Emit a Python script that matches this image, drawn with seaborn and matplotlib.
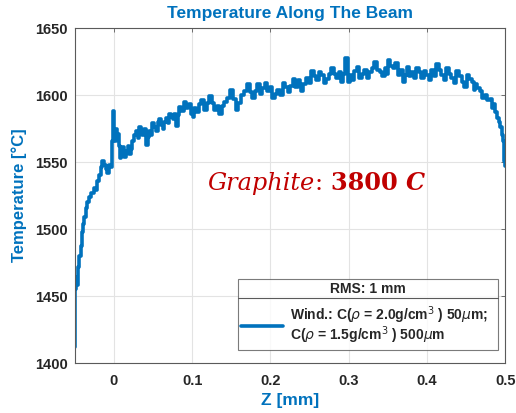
import matplotlib
matplotlib.use("Agg")
import matplotlib.pyplot as plt
import seaborn as sns
import pandas as pd
from matplotlib.lines import Line2D

# ---- data ----
z_mm = [-0.0500, -0.0496, -0.0490, -0.0483, -0.0470, -0.0458, -0.0436, -0.0414, -0.0400,
        -0.0385, -0.0368, -0.0350, -0.0329, -0.0308, -0.0276, -0.0244, -0.0225, -0.0205,
        -0.0182, -0.0158, -0.0137, -0.0115, -0.0096, -0.0077, -0.0060, -0.0042, -0.0017,
        -0.0009,
        0.0013, 0.0034, 0.0055, 0.0066, 0.0077, 0.0096, 0.0115, 0.0139, 0.0163, 0.0184,
        0.0205, 0.0224, 0.0244, 0.0268, 0.0291, 0.0312, 0.0333, 0.0352, 0.0372, 0.0396,
        0.0419, 0.0440, 0.0462, 0.0481, 0.0500, 0.0524, 0.0547, 0.0568, 0.0590, 0.0611,
        0.0632, 0.0654, 0.0676, 0.0697, 0.0718, 0.0739, 0.0760, 0.0782, 0.0804, 0.0825,
        0.0846, 0.0878, 0.0910, 0.0932, 0.0953, 0.0975, 0.0996, 0.1017, 0.1038, 0.1070,
        0.1103, 0.1135, 0.1167, 0.1199, 0.1231, 0.1263, 0.1295, 0.1327, 0.1359, 0.1391,
        0.1423, 0.1466, 0.1509, 0.1541, 0.1573, 0.1605, 0.1637, 0.1680, 0.1722, 0.1754,
        0.1786, 0.1818, 0.1850, 0.1882, 0.1914, 0.1946, 0.1978, 0.2010, 0.2042, 0.2074,
        0.2106, 0.2139, 0.2171, 0.2203, 0.2235, 0.2267, 0.2299, 0.2331, 0.2363, 0.2385,
        0.2406, 0.2439, 0.2471, 0.2503, 0.2535, 0.2567, 0.2599, 0.2631, 0.2663, 0.2695,
        0.2727, 0.2759, 0.2791, 0.2823, 0.2855, 0.2887, 0.2919, 0.2945, 0.2970, 0.3004,
        0.3026, 0.3058, 0.3090, 0.3122, 0.3154, 0.3186, 0.3218, 0.3250, 0.3282, 0.3314,
        0.3346, 0.3378, 0.3410, 0.3442, 0.3474, 0.3496, 0.3517, 0.3549, 0.3581, 0.3613,
        0.3645, 0.3677, 0.3709, 0.3731, 0.3753, 0.3785, 0.3817, 0.3849, 0.3881, 0.3913,
        0.3945, 0.3977, 0.4009, 0.4041, 0.4073, 0.4105, 0.4137, 0.4169, 0.4201, 0.4233,
        0.4265, 0.4297, 0.4329, 0.4361, 0.4394, 0.4426, 0.4458, 0.4490, 0.4522, 0.4554,
        0.4586, 0.4607, 0.4628, 0.4660, 0.4692, 0.4724, 0.4756, 0.4789, 0.4821, 0.4842,
        0.4863, 0.4885, 0.4906, 0.4928, 0.4949, 0.4964, 0.4978, 0.4995, 0.5000]
temp_c = [1412, 1443, 1455, 1464, 1458, 1472, 1480, 1487, 1498,
          1504, 1509, 1516, 1520, 1524, 1527, 1531, 1529, 1536,
          1540, 1546, 1551, 1548, 1545, 1542, 1548, 1546, 1566,
          1588,
          1566, 1575, 1571, 1562, 1553, 1558, 1561, 1554, 1558, 1562,
          1556, 1560, 1566, 1570, 1573, 1568, 1576, 1574, 1570, 1575,
          1563, 1569, 1573, 1570, 1579, 1576, 1573, 1580, 1582, 1578,
          1575, 1580, 1583, 1579, 1586, 1584, 1582, 1586, 1577, 1585,
          1591, 1588, 1595, 1590, 1591, 1593, 1586, 1584, 1590, 1587,
          1593, 1596, 1589, 1594, 1599, 1594, 1589, 1592, 1586, 1592,
          1595, 1598, 1604, 1597, 1589, 1594, 1600, 1603, 1608, 1602,
          1598, 1603, 1608, 1601, 1605, 1609, 1603, 1606, 1598, 1601,
          1604, 1600, 1609, 1606, 1602, 1607, 1612, 1606, 1611, 1608,
          1603, 1608, 1613, 1609, 1618, 1614, 1611, 1617, 1615, 1609,
          1612, 1616, 1620, 1616, 1613, 1617, 1610, 1616, 1628, 1610,
          1615, 1611, 1618, 1621, 1613, 1616, 1619, 1613, 1617, 1620,
          1625, 1619, 1617, 1614, 1620, 1616, 1626, 1622, 1620, 1624,
          1615, 1619, 1610, 1615, 1621, 1614, 1617, 1613, 1620, 1617,
          1613, 1618, 1615, 1611, 1619, 1614, 1623, 1619, 1615, 1611,
          1620, 1616, 1613, 1609, 1618, 1614, 1610, 1606, 1615, 1612,
          1610, 1604, 1608, 1605, 1603, 1598, 1600, 1596, 1597, 1590,
          1593, 1587, 1583, 1580, 1576, 1570, 1566, 1551, 1547]
x_ticks = [0, 0.1, 0.2, 0.3, 0.4, 0.5]
x_tick_labels = ["0", "0.1", "0.2", "0.3", "0.4", "0.5"]
y_ticks = [1400, 1450, 1500, 1550, 1600, 1650]
y_tick_labels = ["1400", "1450", "1500", "1550", "1600", "1650"]
series_label = "Wind.: C($\\rho$ = 2.0g/cm$^3$ ) 50$\\mu$m;\nC($\\rho$ = 1.5g/cm$^3$ ) 500$\\mu$m"
legend_title = "RMS: 1 mm"

BLUE = "#0072BD"
DARK = "#262626"
GREY = "#5a5a5a"

sns.set_theme(style="white")
plt.rcParams["font.family"] = ["Liberation Sans", "DejaVu Sans"]
plt.rcParams["mathtext.default"] = "it"

fig = plt.figure(figsize=(5.16, 4.13), dpi=100)
ax = fig.add_axes([0.145, 0.121, 0.834, 0.811])

df = pd.DataFrame({"z": z_mm, "T": temp_c})
sns.lineplot(data=df, x="z", y="T", ax=ax, color=BLUE, linewidth=2.6,
             drawstyle="steps-mid", label=series_label, sort=False)

ax.set_xlim(-0.05, 0.5)
ax.set_ylim(1400, 1650)
ax.set_xticks(x_ticks)
ax.set_xticklabels(x_tick_labels)
ax.set_yticks(y_ticks)
ax.set_yticklabels(y_tick_labels)
ax.grid(True, color="#e3e3e3", linewidth=0.8)
ax.set_axisbelow(True)

for s in ax.spines.values():
    s.set_visible(True)
    s.set_color(GREY)
    s.set_linewidth(0.8)

ax.tick_params(axis="both", which="both", direction="in", length=3, width=0.6,
               color=GREY, top=True, right=True, labelsize=10.5, labelcolor=DARK)
ax.tick_params(axis="x", pad=8)
ax.tick_params(axis="y", pad=5)
for lab in ax.get_xticklabels() + ax.get_yticklabels():
    lab.set_fontweight("bold")

ax.set_title("Temperature Along The Beam", color=BLUE, fontsize=12.5,
             fontweight="bold", pad=7)
ax.set_xlabel("Z [mm]", color=BLUE, fontsize=12.5, fontweight="bold")
ax.set_ylabel("Temperature [°C]", color=BLUE, fontsize=12, fontweight="bold")
ax.xaxis.set_label_coords(0.5, -0.088)
ax.yaxis.set_label_coords(-0.112, 0.5)

# Graphite annotation (red, serif)
RED = "#C00000"
FS = 17.3
t1 = ax.text(0.309, 0.518, "Graphite", transform=ax.transAxes, color=RED,
             fontsize=FS, family="DejaVu Serif", style="italic", va="baseline")
t2 = ax.annotate(": ", xy=(1, 0), xycoords=t1, color=RED, fontsize=FS,
                 family="DejaVu Serif", va="bottom")
t3 = ax.annotate("3800 ", xy=(1, 0), xycoords=t2, color=RED, fontsize=FS,
                 family="DejaVu Serif", fontweight="bold", va="bottom")
t4 = ax.annotate("C", xy=(1, 0), xycoords=t3, color=RED, fontsize=FS,
                 family="DejaVu Serif", fontweight="bold", style="italic", va="bottom")

leg = ax.legend(loc="lower left", bbox_to_anchor=(0.379, 0.039, 0.605, 0.206),
                mode="expand", borderaxespad=0, title=legend_title, fontsize=10,
                title_fontproperties={"weight": "bold", "size": 10},
                frameon=True, fancybox=False, edgecolor=GREY,
                handlelength=3.0, borderpad=0.25, labelspacing=0.55,
                handletextpad=0.5)
leg.get_frame().set_linewidth(0.8)
for t in leg.get_texts():
    t.set_fontweight("bold")
    t.set_color(DARK)
    t.set_linespacing(0.95)
leg.get_title().set_color(DARK)

# separator between legend title and entries
fig.canvas.draw()
inv = ax.transAxes.inverted()
fb = leg.get_frame().get_window_extent()
tb = leg.get_title().get_window_extent()
(x0, _), (x1, _) = inv.transform([[fb.x0, 0], [fb.x1, 0]])
ysep = inv.transform([[0, tb.y0 - 1.5]])[0][1]
ax.add_line(Line2D([x0, x1], [ysep, ysep], transform=ax.transAxes,
                   color=GREY, linewidth=0.8, zorder=10, clip_on=False))

fig.savefig("out.png", dpi=100)
